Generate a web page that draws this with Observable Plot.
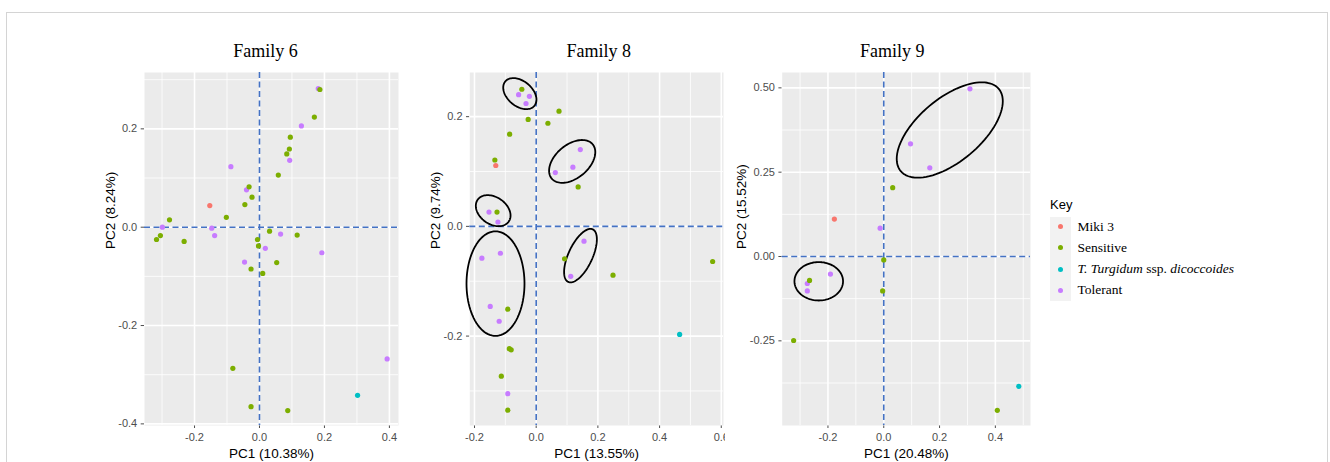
<!DOCTYPE html>
<html>
<head>
<meta charset="utf-8">
<script src="https://cdn.jsdelivr.net/npm/d3@7"></script>
<script src="https://cdn.jsdelivr.net/npm/@observablehq/plot@0.6"></script>
<style>
  html, body { margin: 0; padding: 0; background: #fff; }
  #root { position: relative; width: 1330px; height: 462px; overflow: hidden; background: #fff; }
  #frame { position: absolute; left: 6px; top: 12px; width: 1322px; height: 480px; border: 1px solid #d4d4d4; box-sizing: border-box; }
  .panel { position: absolute; top: 0; }
  .panel svg { overflow: hidden; }
  #legend { position: absolute; left: 1050px; top: 196px; font-family: "Liberation Serif", "Times New Roman", serif; }
  #legend .title { font-family: "Liberation Sans", Arial, sans-serif; font-size: 13px; color: #000; height: 20px; line-height: 18px; }
  #legend .keybox { position: absolute; left: 0; top: 20.5px; width: 21px; height: 84px; background: #F2F2F2; }
  #legend .item { position: absolute; left: 0; height: 20px; white-space: nowrap; font-size: 13.5px; color: #000; }
  #legend .dot { position: absolute; left: 8.2px; width: 5px; height: 5px; border-radius: 50%; }
  #legend .lab { position: absolute; left: 27.5px; line-height: 20px; }
</style>
</head>
<body>
<div id="root"><div id="frame"></div><div id="legend"></div></div>
<script>
// ---- categories & colours ----
const groupCodes = ["M", "S", "D", "T"];
const groupNames = ["Miki 3", "Sensitive", "T. Turgidum ssp. dicoccoides", "Tolerant"];
const groupColors = ["#F8766D", "#7CAE00", "#00BFC4", "#C77CFF"];

// ---- Family 6 ----
const f6Group = ["T","T","T","T","T","T","T","T","T","T","T","T","T",
  "S","S","S","S","S","S","S","S","S","S","S","S","S","S","S","S","S","S","S","S","S","S","S","S",
  "M","D"];
const f6PC1 = [0.181,0.129,0.093,-0.088,-0.040,-0.299,-0.147,-0.138,0.065,0.018,-0.046,0.192,0.393,
  0.186,0.169,0.095,0.092,0.084,0.058,-0.032,-0.023,-0.045,-0.102,-0.277,-0.305,-0.317,-0.232,-0.006,-0.003,0.031,0.116,0.053,-0.026,0.010,-0.082,-0.026,0.087,
  -0.153,0.302];
const f6PC2 = [0.282,0.206,0.136,0.123,0.076,0.000,-0.002,-0.017,-0.014,-0.043,-0.071,-0.052,-0.268,
  0.280,0.224,0.183,0.159,0.149,0.106,0.082,0.061,0.046,0.020,0.015,-0.017,-0.025,-0.029,-0.025,-0.038,-0.008,-0.016,-0.072,-0.085,-0.094,-0.287,-0.365,-0.373,
  0.044,-0.342];

// ---- Family 8 ----
const f8Group = ["T","T","T","T","T","T","T","T","T","T","T","T","T","T","T",
  "S","S","S","S","S","S","S","S","S","S","S","S","S","S","S","S",
  "M","D"];
const f8PC1 = [-0.057,-0.022,-0.033,0.143,0.119,0.062,-0.153,-0.124,0.155,0.112,-0.176,-0.116,-0.149,-0.120,-0.092,
  -0.0465,-0.026,0.074,0.038,-0.086,-0.134,-0.127,0.136,0.092,0.249,0.572,-0.092,-0.087,-0.081,-0.113,-0.092,
  -0.131,0.465];
const f8PC2 = [0.240,0.237,0.224,0.140,0.108,0.098,0.026,0.008,-0.027,-0.091,-0.058,-0.049,-0.146,-0.173,-0.305,
  0.250,0.195,0.210,0.188,0.168,0.121,0.026,0.072,-0.059,-0.089,-0.064,-0.151,-0.223,-0.225,-0.273,-0.335,
  0.111,-0.197];

// ---- Family 9 ----
const f9Group = ["T","T","T","T","T","T","T","S","S","S","S","S","S","M","D"];
const f9PC1 = [0.309,0.096,0.165,-0.013,-0.191,-0.274,-0.274,0.032,0.000,-0.004,-0.266,-0.323,0.407,-0.177,0.484];
const f9PC2 = [0.497,0.334,0.263,0.084,-0.052,-0.080,-0.102,0.204,-0.010,-0.102,-0.071,-0.249,-0.456,0.111,-0.385];

// ---- cluster ellipses (centre + two conjugate semi-axis vectors, data units) ----
const f8Ellipses = [
  {cx: -0.053, cy: 0.242, ax: 0.0472, ay: -0.0222, bx: -0.0260, by: -0.0175},
  {cx: 0.1167, cy: 0.1184, ax: 0.0663, ay: 0.0313, bx: 0.0348, by: -0.0233},
  {cx: -0.1394, cy: 0.0286, ax: 0.0504, ay: -0.0199, bx: -0.0251, by: -0.0201},
  {cx: -0.1319, cy: -0.1044, ax: 0.0940, ay: 0, bx: 0, by: -0.0953},
  {cx: 0.1436, cy: -0.0534, ax: 0.0398, ay: 0.0479, bx: 0.0352, by: -0.00925}
];
const f9Ellipses = [
  {cx: 0.2366, cy: 0.375, ax: 0.1757, ay: 0.1220, bx: 0.0726, by: -0.0715},
  {cx: -0.233, cy: -0.0735, ax: 0.0871, ay: 0, bx: 0, by: -0.0569}
];

// ---- axis ticks ----
const f6XTicks = [-0.2, 0, 0.2, 0.4], f6XMinor = [-0.3, -0.1, 0.1, 0.3];
const f6YTicks = [-0.4, -0.2, 0, 0.2], f6YMinor = [-0.3, -0.1, 0.1, 0.3];
const f8XTicks = [-0.2, 0, 0.2, 0.4, 0.6], f8XMinor = [-0.1, 0.1, 0.3, 0.5];
const f8YTicks = [-0.2, 0, 0.2], f8YMinor = [-0.3, -0.1, 0.1];
const f9XTicks = [-0.2, 0, 0.2, 0.4], f9XMinor = [-0.3, -0.1, 0.1, 0.3, 0.5];
const f9YTicks = [-0.25, 0, 0.25, 0.5], f9YMinor = [-0.375, -0.125, 0.125, 0.375];

const nameOf = c => groupNames[groupCodes.indexOf(c)];
function rows(g, xs, ys) { return g.map((c, i) => ({group: nameOf(c), x: xs[i], y: ys[i]})); }
function ellipseRows(list) {
  const out = [];
  list.forEach((e, k) => {
    for (let i = 0; i <= 96; i++) {
      const t = (i / 96) * 2 * Math.PI;
      out.push({id: k, x: e.cx + e.ax * Math.cos(t) + e.bx * Math.sin(t), y: e.cy + e.ay * Math.cos(t) + e.by * Math.sin(t)});
    }
  });
  return out;
}

function panel(cfg) {
  const fmtX = d => d.toFixed(cfg.xDigits);
  const fmtY = d => d.toFixed(cfg.yDigits);
  const marks = [
    Plot.frame({fill: "#EBEBEB", stroke: null}),
    Plot.ruleX(cfg.xMinor, {stroke: "#fff", strokeWidth: 0.8}),
    Plot.ruleY(cfg.yMinor, {stroke: "#fff", strokeWidth: 0.8}),
    Plot.ruleX(cfg.xTicks, {stroke: "#fff", strokeWidth: 1.6}),
    Plot.ruleY(cfg.yTicks, {stroke: "#fff", strokeWidth: 1.6}),
    Plot.ruleX([0], {stroke: "#4472C4", strokeWidth: 1.6, strokeDasharray: "6,3.5"}),
    Plot.ruleY([0], {stroke: "#4472C4", strokeWidth: 1.6, strokeDasharray: "6,3.5"})
  ];
  if (cfg.ellipses) marks.push(Plot.line(ellipseRows(cfg.ellipses), {x: "x", y: "y", z: "id", stroke: "#000", strokeWidth: 1.8}));
  marks.push(
    Plot.dot(cfg.data, {x: "x", y: "y", fill: "group", r: 2.6, stroke: null}),
    Plot.text([cfg.title], {frameAnchor: "top", dy: -21.5, dx: cfg.titleDx, lineAnchor: "middle",
      fontFamily: "Liberation Serif, Times New Roman, serif", fontSize: 18, fill: "#000"}),
    Plot.text([cfg.xLabel], {frameAnchor: "bottom", dy: 28, lineAnchor: "middle", fontSize: 13.5, fill: "#000"}),
    Plot.text([cfg.yLabel], {frameAnchor: "left", dx: cfg.yLabelDx, rotate: -90, lineAnchor: "middle", fontSize: 13.5, fill: "#000"})
  );
  const svg = Plot.plot({
    width: cfg.width, height: 462,
    marginLeft: cfg.ml, marginRight: cfg.mr, marginTop: 72, marginBottom: 37,
    style: {fontFamily: "Liberation Sans, Arial, sans-serif", fontSize: "11px", color: "#4D4D4D", background: "transparent", overflow: "hidden"},
    x: {domain: cfg.xDomain, ticks: cfg.xTicks, tickFormat: fmtX, tickSize: 3, tickPadding: 5, label: null},
    y: {domain: cfg.yDomain, ticks: cfg.yTicks, tickFormat: fmtY, tickSize: 3.3, tickPadding: 4, label: null},
    color: {domain: groupNames, range: groupColors},
    marks
  });
  const wrap = document.createElement("div");
  wrap.className = "panel";
  wrap.style.left = cfg.left + "px";
  wrap.style.width = cfg.width + "px";
  wrap.appendChild(svg);
  document.getElementById("root").appendChild(wrap);
}

panel({left: 90, width: 320, ml: 54, mr: 12, title: "Family 6", titleDx: -6,
  xLabel: "PC1 (10.38%)", yLabel: "PC2 (8.24%)", yLabelDx: -34,
  xDomain: [-0.354, 0.428], yDomain: [-0.4033, 0.3146], xDigits: 1, yDigits: 1,
  xTicks: f6XTicks, xMinor: f6XMinor, yTicks: f6YTicks, yMinor: f6YMinor,
  data: rows(f6Group, f6PC1, f6PC2)});

panel({left: 420, width: 305, ml: 49.3, mr: 2, title: "Family 8", titleDx: 2,
  xLabel: "PC1 (13.55%)", yLabel: "PC2 (9.74%)", yLabelDx: -34.3,
  xDomain: [-0.2152, 0.6072], yDomain: [-0.363, 0.2805], xDigits: 1, yDigits: 1,
  xTicks: f8XTicks, xMinor: f8XMinor, yTicks: f8YTicks, yMinor: f8YMinor,
  data: rows(f8Group, f8PC1, f8PC2), ellipses: f8Ellipses});

panel({left: 725, width: 320, ml: 56.7, mr: 15, title: "Family 9", titleDx: -14,
  xLabel: "PC1 (20.48%)", yLabel: "PC2 (15.52%)", yLabelDx: -40.7,
  xDomain: [-0.364, 0.526], yDomain: [-0.501, 0.5455], xDigits: 1, yDigits: 2,
  xTicks: f9XTicks, xMinor: f9XMinor, yTicks: f9YTicks, yMinor: f9YMinor,
  data: rows(f9Group, f9PC1, f9PC2), ellipses: f9Ellipses});

// ---- legend ----
const legend = document.getElementById("legend");
legend.innerHTML = '<div class="title">Key</div><div class="keybox"></div>';
const legendLabels = ["Miki 3", "Sensitive", "<i>T. Turgidum</i> ssp. <i>dicoccoides</i>", "Tolerant"];
groupNames.forEach((g, i) => {
  const item = document.createElement("div");
  item.className = "item";
  item.style.top = (20.5 + i * 21.3) + "px";
  item.innerHTML = `<span class="dot" style="top:7.5px;background:${groupColors[i]}"></span><span class="lab">${legendLabels[i]}</span>`;
  legend.appendChild(item);
});
</script>
</body>
</html>
